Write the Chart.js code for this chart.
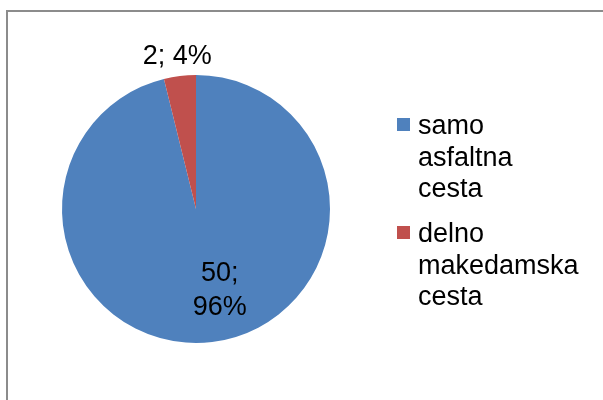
<!DOCTYPE html>
<html>
<head>
<meta charset="utf-8">
<script src="https://cdn.jsdelivr.net/npm/chart.js@4/dist/chart.umd.min.js"></script>
<style>
html,body{margin:0;padding:0;width:603px;height:400px;overflow:hidden;background:#fff;}
#frame{position:absolute;left:6px;top:10px;width:700px;height:500px;border:2px solid #8c8c8c;box-sizing:border-box;}
#c{position:absolute;left:0;top:0;}
</style>
</head>
<body>
<div id="frame"></div>
<canvas id="c" width="603" height="400"></canvas>
<script>
/* ===== 資料 ===== */
const LABELS=[['samo','asfaltna','cesta'],['delno','makedamska','cesta']];
const VALUES=[50,2];
const PCTS=['96%','4%'];
const COLORS=['#4F81BD','#C0504D'];

const FONT='27px "Liberation Sans", Arial, sans-serif';

/* 資料標籤 */
const dataLabels={id:'dataLabels',afterDatasetsDraw(ch){
  const ctx=ch.ctx,arcs=ch.getDatasetMeta(0).data;
  ctx.save();ctx.font=FONT;ctx.fillStyle='#000';ctx.textAlign='center';ctx.textBaseline='alphabetic';
  arcs.forEach((a,i)=>{
    const mid=(a.startAngle+a.endAngle)/2;
    if(i===1){ // 外側
      const d=a.outerRadius+21;
      ctx.fillText(VALUES[i]+'; '+PCTS[i],a.x+Math.cos(mid)*d,a.y+Math.sin(mid)*d+9);
    }else{
      const d=a.outerRadius*0.6,x=a.x+Math.cos(mid)*d+14,y=a.y+Math.sin(mid)*d;
      ctx.fillText(VALUES[i]+';',x,y-8);
      ctx.fillText(PCTS[i],x,y+26);
    }
  });
  ctx.restore();
}};

/* 圖例 */
const legendBox={id:'legendBox',afterDraw(ch){
  const ctx=ch.ctx;ctx.save();ctx.font=FONT;ctx.textBaseline='alphabetic';ctx.textAlign='left';
  let y=134;
  LABELS.forEach((lines,i)=>{
    ctx.fillStyle=COLORS[i];ctx.fillRect(397,y-16,13,13);
    ctx.fillStyle='#000';
    lines.forEach((t,j)=>ctx.fillText(t,418,y+j*31.5));
    y+=108;
  });
  ctx.restore();
}};

new Chart(document.getElementById('c'),{
  type:'pie',
  data:{labels:LABELS.map(l=>l.join(' ')),datasets:[{data:VALUES,backgroundColor:COLORS,borderWidth:0}]},
  options:{responsive:false,animation:false,
    layout:{padding:{left:62,right:273,top:75,bottom:57}},
    plugins:{legend:{display:false},tooltip:{enabled:false}}},
  plugins:[dataLabels,legendBox]
});
</script>
</body>
</html>
